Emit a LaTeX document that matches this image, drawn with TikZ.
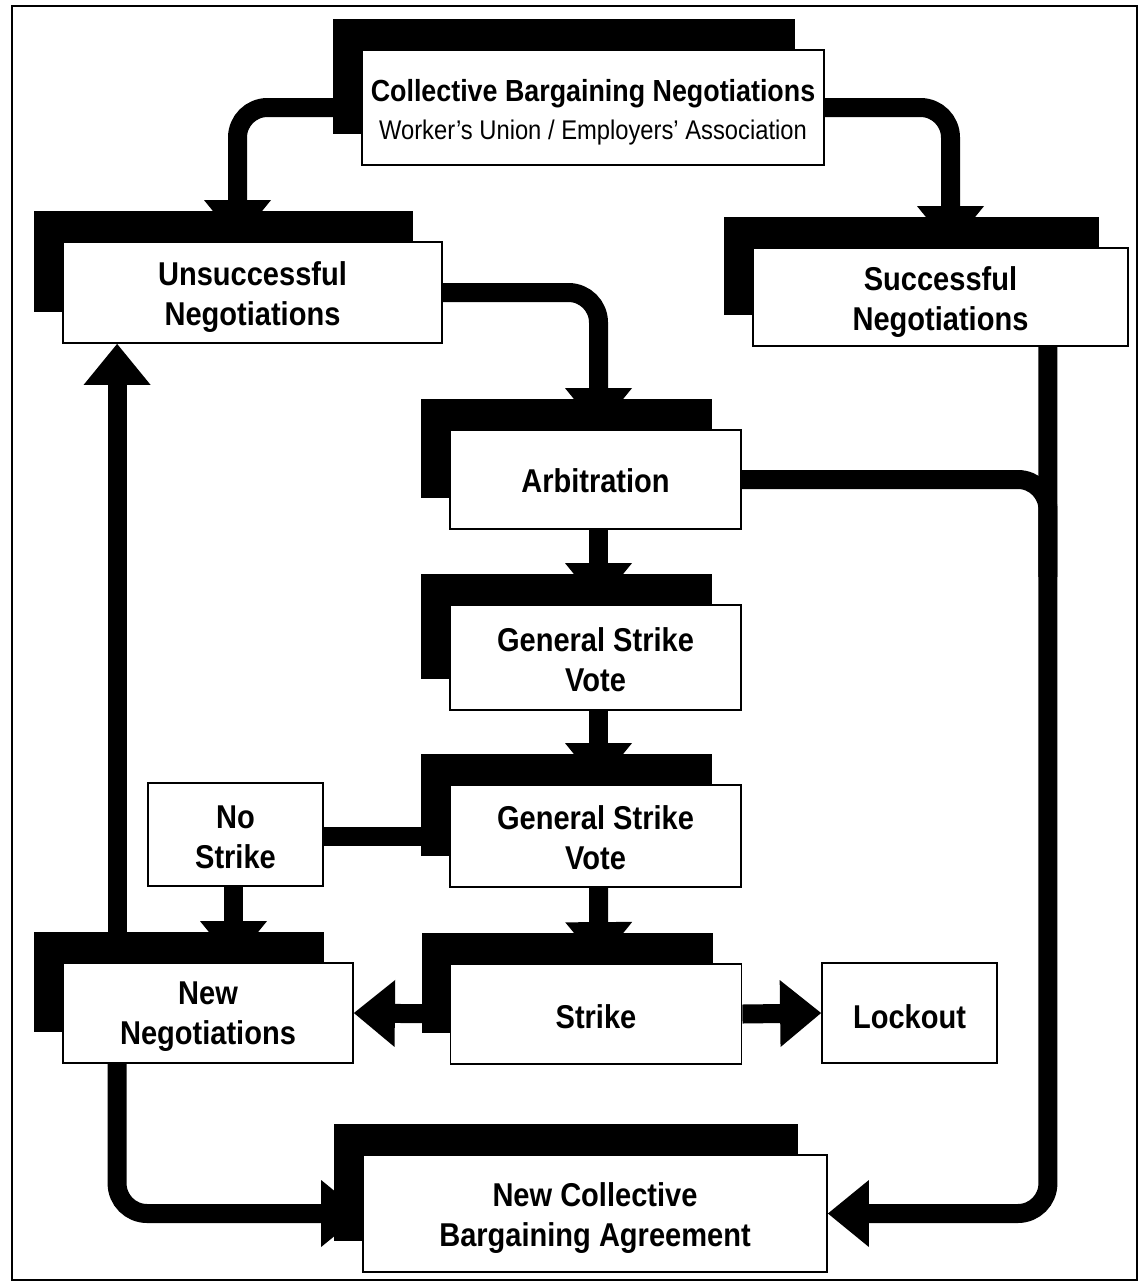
\documentclass[tikz,border=0pt]{standalone}
\usepackage{fontspec}
\setmainfont{Liberation Sans}[FakeStretch=0.88]
\usetikzlibrary{arrows.meta,calc,shadows}
\begin{document}
\begin{tikzpicture}[x=1pt,y=-1pt,
  box/.style={draw=black, line width=1.8pt, fill=white, inner sep=0pt},
  shbox/.style={box, general shadow={fill=black, shadow xshift=-29pt, shadow yshift=31pt}},
  lbl/.style={align=center, inner sep=0pt, font=\bfseries\fontsize{33}{40}\selectfont},
  conn/.style={draw=black, line width=19pt, rounded corners=30pt},
  arr/.style={conn, -{Triangle[width=67pt,length=41pt,line width=0pt]}},
]
\useasboundingbox (0,0) rectangle (1140,1285);
\draw[line width=2pt] (12,6) rectangle (1137,1280);

% boxes
\node[shbox, minimum width=462pt, minimum height=115pt] (top) at (593,107.5) {};
\node[shbox, minimum width=379pt, minimum height=101pt] (unsucc) at (252.5,292.5) {};
\node[shbox, minimum width=375pt, minimum height=98pt] (succ) at (940.5,297) {};
\node[shbox, minimum width=291pt, minimum height=99pt] (arb) at (595.5,479.5) {};
\node[shbox, minimum width=291pt, minimum height=105pt] (gsv1) at (595.5,657.5) {};
\node[shbox, minimum width=291pt, minimum height=102pt] (gsv2) at (595.5,836) {};
\node[box, minimum width=175pt, minimum height=103pt] (nostrike) at (235.5,834.5) {};
\node[shbox, minimum width=291pt, minimum height=100pt] (strike) at (596,1014) {};
\node[box, minimum width=175pt, minimum height=100pt] (lockout) at (909.5,1013) {};
\node[shbox, minimum width=290pt, minimum height=100pt] (newneg) at (208,1013) {};
\node[shbox, minimum width=464pt, minimum height=117pt] (ncba) at (595,1213.5) {};

% labels
\node[lbl] (top-t) at ($(top.center)+(0,5)$)
  {{\fontsize{30.5}{33}\selectfont Collective Bargaining Negotiations}\\[-2pt]
   {\mdseries\fontsize{27}{33}\selectfont Worker's Union / Employers' Association}};
\node[lbl] (unsucc-t) at ($(unsucc.center)+(0,5)$) {Unsuccessful\\Negotiations};
\node[lbl] (succ-t) at ($(succ.center)+(0,5)$) {Successful\\Negotiations};
\node[lbl] (arb-t) at ($(arb.center)+(0,1)$) {Arbitration};
\node[lbl] (gsv1-t) at ($(gsv1.center)+(0,2)$) {General Strike\\Vote};
\node[lbl] (gsv2-t) at ($(gsv2.center)+(0,2)$) {General Strike\\Vote};
\node[lbl] (nostrike-t) at ($(nostrike.center)+(0,3)$) {No\\Strike};
\node[lbl] (strike-t) at ($(strike.center)+(0,3)$) {Strike};
\node[lbl] (lockout-t) at ($(lockout.center)+(0,4)$) {Lockout};
\node[lbl] (newneg-t) at ($(newneg.center)+(0,4)$) {New\\Negotiations};
\node[lbl] (ncba-t) at ($(ncba.center)+(0,5)$) {New Collective\\Bargaining Agreement};

\coordinate (merge) at ($(succ.south east)+(-81,230)$);

% connectors
\draw[arr] (top.west) -| ($(unsucc.north)+(-15,0)$);
\draw[arr] (top.east) -| ($(succ.north)+(10,0)$);
\draw[arr] (unsucc.east) -| ($(arb.north)+(3,0)$);
\draw[arr] ($(arb.south)+(3,0)$) -- ($(gsv1.north)+(3,0)$);
\draw[arr] ($(gsv1.south)+(3,0)$) -- ($(gsv2.north)+(3,0)$);
\draw[arr] ($(gsv2.south)+(3,0)$) -- ($(strike.north)+(3,0)$);
\draw[conn] (gsv2.west) -- (gsv2.west -| nostrike.east);
\draw[arr] ($(nostrike.south)+(-2,0)$) -- ($(nostrike.south |- newneg.north)+(-2,0)$);
\draw[arr] (strike.west) -- (newneg.east);
\draw[arr] (strike.east) -- (lockout.west);
\draw[arr] ($(newneg.north west)+(55,0)$) -- ($(unsucc.south west)+(55,0)$);
\draw[arr] ($(newneg.south west)+(55,0)$) |- (ncba.west);
\draw[arr] ($(succ.south east)+(-81,0)$) |- (ncba.east);
\draw[conn] (arb.east) -| (merge);
\end{tikzpicture}
\end{document}
